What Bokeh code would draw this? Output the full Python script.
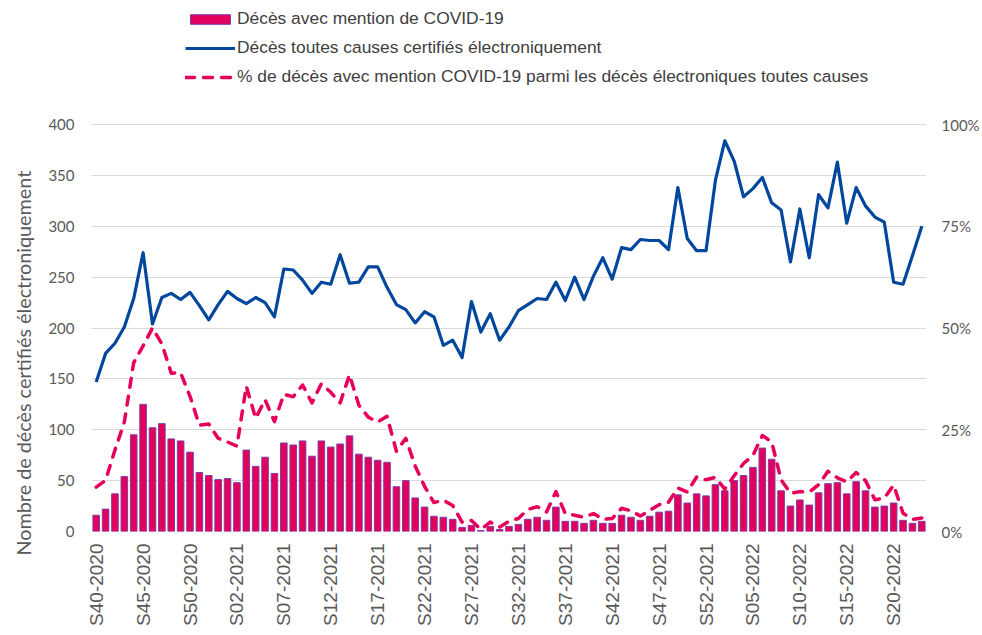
import math
from bokeh.plotting import figure
from bokeh.models import (Range1d, LinearAxis, FixedTicker, PrintfTickFormatter,
                          Legend, LegendItem, Title, ColumnDataSource)
from bokeh.embed import file_html
from bokeh.resources import INLINE

# ---- categories (ISO weeks) ----
weeks_2020 = list(range(40, 54))
weeks_2021 = list(range(1, 53))
weeks_2022 = list(range(1, 24))
week_labels = ([f"S{w:02d}-2020" for w in weeks_2020] +
               [f"S{w:02d}-2021" for w in weeks_2021] +
               [f"S{w:02d}-2022" for w in weeks_2022])

# ---- series ----
covid_deaths = [16, 22, 37, 54, 95, 125, 102, 106, 91, 89, 78, 58, 55, 51, 52, 48,
                80, 64, 73, 57, 87, 85, 89, 74, 89, 83, 86, 94, 76, 73, 70, 68,
                44, 50, 33, 24, 15, 14, 12, 4, 6, 1, 5, 2, 5, 7, 12, 14, 11, 24,
                10, 10, 8, 11, 8, 8, 16, 14, 11, 15, 19, 20, 36, 28, 37, 35, 46,
                40, 50, 55, 63, 82, 71, 40, 25, 31, 26, 38, 47, 48, 37, 49, 40,
                24, 25, 28, 11, 8, 10]

all_deaths = [147, 175, 185, 201, 229, 274, 204, 230, 234, 228, 235, 222, 208, 223,
              236, 229, 224, 230, 225, 211, 258, 257, 247, 234, 245, 243, 272, 244,
              245, 260, 260, 240, 223, 218, 205, 216, 211, 183, 188, 171, 226, 196,
              214, 188, 201, 217, 223, 229, 228, 245, 227, 250, 228, 251, 269, 248,
              279, 277, 287, 286, 286, 277, 338, 288, 276, 276, 345, 384, 364, 329,
              337, 348, 323, 316, 265, 317, 269, 331, 318, 363, 303, 338, 320, 309,
              304, 245, 243, 271, 300]

covid_pct = [10.9, 12.6, 20.0, 26.9, 41.5, 45.6, 50.0, 46.1, 38.9, 39.0, 33.2, 26.1,
             26.4, 22.9, 22.0, 21.0, 35.7, 27.8, 32.4, 27.0, 33.7, 33.1, 36.0, 31.6,
             36.3, 34.2, 31.6, 38.5, 31.0, 28.1, 26.9, 28.3, 19.7, 22.9, 16.1, 11.1,
             7.1, 7.7, 6.4, 2.3, 2.7, 0.5, 2.3, 1.1, 2.5, 3.2, 5.4, 6.1, 4.8, 9.8,
             4.4, 4.0, 3.5, 4.4, 3.0, 3.2, 5.7, 5.1, 3.8, 5.2, 6.6, 7.2, 10.7, 9.7,
             13.4, 12.7, 13.3, 10.4, 13.7, 16.7, 18.7, 23.6, 22.0, 12.7, 9.4, 9.8,
             9.7, 11.5, 14.8, 13.2, 12.2, 14.5, 12.5, 7.8, 8.2, 11.4, 4.5, 3.0, 3.3]

left_ticks = [0, 50, 100, 150, 200, 250, 300, 350, 400]
right_ticks = [0, 25, 50, 75, 100]
label_step = 5

n = len(week_labels)
idx = list(range(n))
src = ColumnDataSource(dict(x=idx, covid=covid_deaths, total=all_deaths, pct=covid_pct))

GRAY = "#595959"

# The frame spans the whole height above the x axis so that the legend stays
# visible; the 400 / 100% gridline sits 124px below the frame top.
FRAME_H = 531
AXIS_H = 407
y_top = 400 * FRAME_H / AXIS_H
pct_top = 100 * FRAME_H / AXIS_H

p = figure(width=982, height=635, x_range=Range1d(-0.5, n - 0.5), y_range=Range1d(0, y_top),
           output_backend="svg", toolbar_location=None,
           min_border_left=91, min_border_right=55, min_border_top=0, min_border_bottom=104)
p.extra_y_ranges = {"pct": Range1d(0, pct_top)}
p.outline_line_color = None
p.background_fill_color = "white"
p.border_fill_color = "white"

bars = p.vbar(x="x", top="covid", bottom=0, width=0.7, source=src,
              fill_color="#E2005A", line_color="#7B3FA8", line_width=1)
total_line = p.line(x="x", y="total", source=src, line_color="#00479D", line_width=3.2,
                    line_join="round")
pct_line = p.line(x="x", y="pct", source=src, y_range_name="pct", line_color="#E6005C",
                  line_width=3.5, line_dash="9 9", line_cap="round", line_join="round")

# grid
p.xgrid.visible = False
p.ygrid.ticker = FixedTicker(ticks=left_ticks)
p.ygrid.grid_line_color = "#D9D9D9"
p.ygrid.grid_line_width = 1


def plain(axis):
    axis.axis_line_color = None
    axis.major_tick_line_color = None
    axis.minor_tick_line_color = None
    axis.major_tick_out = 0
    axis.major_tick_in = 0
    axis.minor_tick_out = 0
    axis.minor_tick_in = 0


# x axis
xa = p.xaxis[0]
xa.ticker = FixedTicker(ticks=list(range(0, n, label_step)))
xa.major_label_overrides = {i: week_labels[i] for i in range(0, n, label_step)}
xa.major_label_orientation = math.pi / 2
xa.major_label_text_font = "Liberation Sans"
xa.major_label_text_font_size = "19px"
xa.major_label_text_color = GRAY
xa.major_label_standoff = 12
plain(xa)

# left axis
ya = p.yaxis[0]
ya.ticker = FixedTicker(ticks=left_ticks)
ya.major_label_text_font = "Lato"
ya.major_label_text_font_size = "15px"
ya.major_label_text_color = GRAY
ya.major_label_standoff = 17
plain(ya)

# right axis
ra = LinearAxis(y_range_name="pct", ticker=FixedTicker(ticks=right_ticks),
                formatter=PrintfTickFormatter(format="%d%%"))
ra.major_label_text_font = "Lato"
ra.major_label_text_font_size = "15px"
ra.major_label_text_color = GRAY
ra.major_label_standoff = 15
plain(ra)
p.add_layout(ra, "right")

# y title (left panel)
p.add_layout(Title(text="Nombre de décès certifiés électroniquement", align="left",
                   offset=-24, vertical_align="top", standoff=17,
                   text_font="Lato", text_font_size="19.8px", text_font_style="normal",
                   text_color=GRAY), "left")

# legend (inside the frame, above the 400 gridline)
legend = Legend(items=[
    LegendItem(label="Décès avec mention de COVID-19", renderers=[bars]),
    LegendItem(label="Décès toutes causes certifiés électroniquement", renderers=[total_line]),
    LegendItem(label="% de décès avec mention COVID-19 parmi les décès électroniques toutes causes",
               renderers=[pct_line]),
], location=(94, 444), orientation="vertical", padding=0, spacing=8,
    glyph_width=50, glyph_height=12, label_standoff=2, label_height=20,
    label_text_font="Liberation Sans", label_text_font_size="17.4px",
    label_text_color="#404040", background_fill_alpha=0, border_line_alpha=0)
p.add_layout(legend, "center")

open("out.html", "w").write(file_html(p, INLINE))
